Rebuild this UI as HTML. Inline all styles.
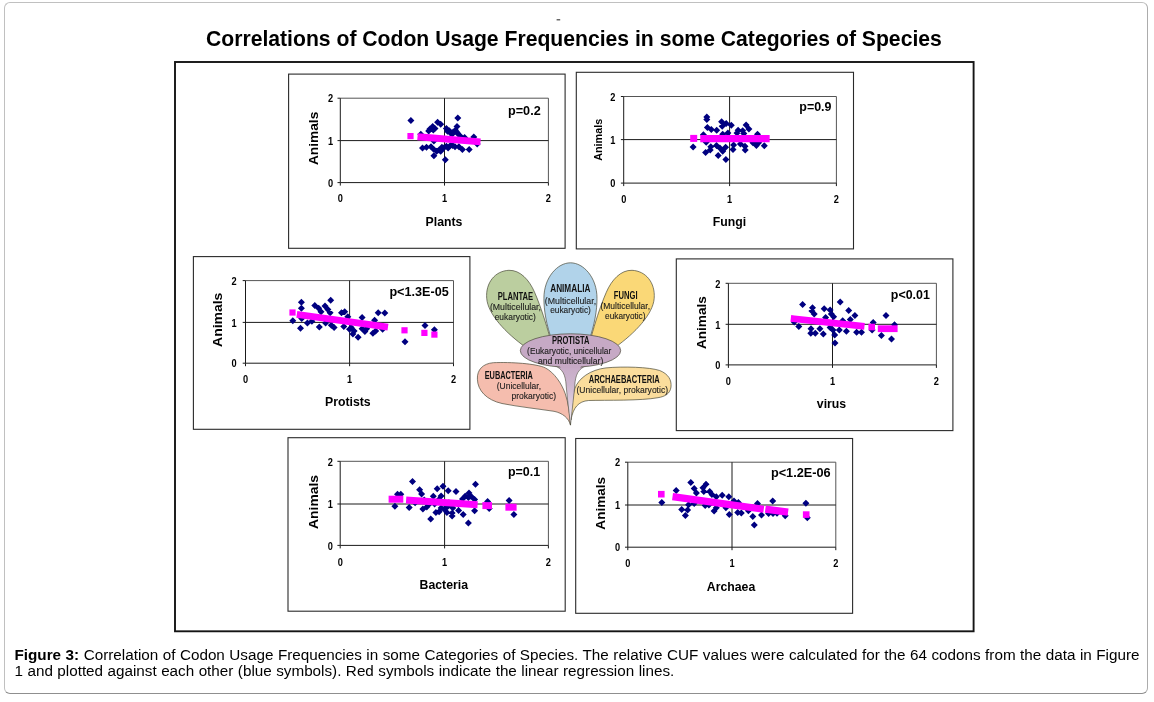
<!DOCTYPE html>
<html lang="en"><head><meta charset="utf-8"><title>Figure 3</title>
<style>
html,body{margin:0;padding:0;background:#fff;}
body{width:1154px;height:702px;position:relative;overflow:hidden;font-family:"Liberation Sans",Arial,sans-serif;}
.card{position:absolute;left:4px;top:2px;width:1142px;height:690px;border:1px solid #c0c0c0;border-right-color:#acacac;border-bottom-color:#8f8f8f;border-radius:6px;background:#fff;}
svg{position:absolute;left:0;top:0;}
svg text{font-family:"Liberation Sans",Arial,sans-serif;}
.cap{position:absolute;left:14.5px;top:647px;width:1125px;font-size:15.25px;line-height:16px;color:#000;margin:0;}
.cap span{display:block;white-space:nowrap;}
.cap .l1{text-align:justify;text-align-last:justify;}
.cap .l2{word-spacing:0.2px;}
</style></head><body>
<div class="card"></div>
<svg width="1154" height="702" viewBox="0 0 1154 702">
<rect x="556.6" y="19.2" width="3.6" height="1.2" fill="#444"/>
<text x="206" y="45.6" font-size="22.6" font-weight="bold" textLength="735.8" lengthAdjust="spacingAndGlyphs">Correlations of Codon Usage Frequencies in some Categories of Species</text>
<rect x="175" y="62" width="798.6" height="569.3" fill="none" stroke="#141414" stroke-width="1.9"/>
<g>
<rect x="288.6" y="74.1" width="276.5" height="174.2" fill="#fff" stroke="#2a2a2a" stroke-width="1.1"/>
<path d="M340.3,98.2H548.4V182.6" fill="none" stroke="#555" stroke-width="1"/>
<path d="M340.3,98.2V182.6H548.4" fill="none" stroke="#1a1a1a" stroke-width="1"/>
<path d="M340.3,140.6H548.4M444.5,98.2V182.6" fill="none" stroke="#1a1a1a" stroke-width="1"/>
<path d="M337.5,98.2H340.3M337.5,140.6H340.3M337.5,182.6H340.3M340.3,182.6v3M444.5,182.6v3M548.4,182.6v3" fill="none" stroke="#1a1a1a" stroke-width="1"/>
<text transform="translate(330.5,102.4) scale(0.84,1)" text-anchor="middle" font-size="11" font-weight="bold" fill="#000">2</text>
<text transform="translate(330.5,144.8) scale(0.84,1)" text-anchor="middle" font-size="11" font-weight="bold" fill="#000">1</text>
<text transform="translate(330.5,186.8) scale(0.84,1)" text-anchor="middle" font-size="11" font-weight="bold" fill="#000">0</text>
<text transform="translate(340.3,202.1) scale(0.84,1)" text-anchor="middle" font-size="11" font-weight="bold" fill="#000">0</text>
<text transform="translate(444.5,202.1) scale(0.84,1)" text-anchor="middle" font-size="11" font-weight="bold" fill="#000">1</text>
<text transform="translate(548.4,202.1) scale(0.84,1)" text-anchor="middle" font-size="11" font-weight="bold" fill="#000">2</text>
<text transform="translate(318.3,138.4) rotate(-90)" text-anchor="middle" font-size="13.5" font-weight="bold" textLength="53.4" lengthAdjust="spacingAndGlyphs">Animals</text>
<text transform="translate(444.0,225.6) scale(0.93,1)" text-anchor="middle" font-size="13.2" font-weight="bold" fill="#000">Plants</text>
<text x="508.0" y="114.6" font-size="13.4" font-weight="bold" fill="#000" textLength="32.7" lengthAdjust="spacingAndGlyphs">p=0.2</text>
<path d="M410.9,117.0l3.5,3.5l-3.5,3.5l-3.5,-3.5zM457.8,114.4l3.5,3.5l-3.5,3.5l-3.5,-3.5zM457.0,122.9l3.5,3.5l-3.5,3.5l-3.5,-3.5zM437.6,118.7l3.5,3.5l-3.5,3.5l-3.5,-3.5zM440.7,120.7l3.5,3.5l-3.5,3.5l-3.5,-3.5zM432.7,122.9l3.5,3.5l-3.5,3.5l-3.5,-3.5zM433.3,126.4l3.5,3.5l-3.5,3.5l-3.5,-3.5zM428.7,127.5l3.5,3.5l-3.5,3.5l-3.5,-3.5zM446.4,125.0l3.5,3.5l-3.5,3.5l-3.5,-3.5zM449.3,127.30000000000001l3.5,3.5l-3.5,3.5l-3.5,-3.5zM453.2,128.4l3.5,3.5l-3.5,3.5l-3.5,-3.5zM455.5,126.69999999999999l3.5,3.5l-3.5,3.5l-3.5,-3.5zM420.8,130.7l3.5,3.5l-3.5,3.5l-3.5,-3.5zM473.8,133.5l3.5,3.5l-3.5,3.5l-3.5,-3.5zM464.6,134.1l3.5,3.5l-3.5,3.5l-3.5,-3.5zM477.2,140.4l3.5,3.5l-3.5,3.5l-3.5,-3.5zM422.5,144.4l3.5,3.5l-3.5,3.5l-3.5,-3.5zM426.5,143.8l3.5,3.5l-3.5,3.5l-3.5,-3.5zM431.0,143.2l3.5,3.5l-3.5,3.5l-3.5,-3.5zM433.9,146.1l3.5,3.5l-3.5,3.5l-3.5,-3.5zM436.7,147.8l3.5,3.5l-3.5,3.5l-3.5,-3.5zM433.9,152.3l3.5,3.5l-3.5,3.5l-3.5,-3.5zM440.7,147.8l3.5,3.5l-3.5,3.5l-3.5,-3.5zM441.9,143.8l3.5,3.5l-3.5,3.5l-3.5,-3.5zM445.3,156.3l3.5,3.5l-3.5,3.5l-3.5,-3.5zM446.4,142.7l3.5,3.5l-3.5,3.5l-3.5,-3.5zM450.4,142.1l3.5,3.5l-3.5,3.5l-3.5,-3.5zM455.0,143.2l3.5,3.5l-3.5,3.5l-3.5,-3.5zM458.9,143.2l3.5,3.5l-3.5,3.5l-3.5,-3.5zM462.4,146.1l3.5,3.5l-3.5,3.5l-3.5,-3.5zM469.2,146.1l3.5,3.5l-3.5,3.5l-3.5,-3.5zM433.9,137.5l3.5,3.5l-3.5,3.5l-3.5,-3.5zM458.4,130.7l3.5,3.5l-3.5,3.5l-3.5,-3.5zM450.4,129.5l3.5,3.5l-3.5,3.5l-3.5,-3.5zM447.5,127.80000000000001l3.5,3.5l-3.5,3.5l-3.5,-3.5zM452.1,130.7l3.5,3.5l-3.5,3.5l-3.5,-3.5zM439.0,146.6l3.5,3.5l-3.5,3.5l-3.5,-3.5zM443.6,144.4l3.5,3.5l-3.5,3.5l-3.5,-3.5zM452.7,142.1l3.5,3.5l-3.5,3.5l-3.5,-3.5zM448.1,144.4l3.5,3.5l-3.5,3.5l-3.5,-3.5zM435.0,125.0l3.5,3.5l-3.5,3.5l-3.5,-3.5zM429.9,125.6l3.5,3.5l-3.5,3.5l-3.5,-3.5zM460.7,133.0l3.5,3.5l-3.5,3.5l-3.5,-3.5zM457.2,129.0l3.5,3.5l-3.5,3.5l-3.5,-3.5z" fill="#000080"/>
<rect x="407.4" y="133.0" width="6.2" height="6.2" fill="#ff00ff"/>
<line x1="421.0" y1="137.0" x2="477.0" y2="141.6" stroke="#ff00ff" stroke-width="7.0" stroke-linecap="square"/>
</g>
<g>
<rect x="576.3" y="72.3" width="277.2" height="176.6" fill="#fff" stroke="#2a2a2a" stroke-width="1.1"/>
<path d="M623.7,96.5H836.4V183.1" fill="none" stroke="#555" stroke-width="1"/>
<path d="M623.7,96.5V183.1H836.4" fill="none" stroke="#1a1a1a" stroke-width="1"/>
<path d="M623.7,139.6H836.4M729.6,96.5V183.1" fill="none" stroke="#1a1a1a" stroke-width="1"/>
<path d="M620.9000000000001,96.5H623.7M620.9000000000001,139.6H623.7M620.9000000000001,183.1H623.7M623.7,183.1v3M729.6,183.1v3M836.4,183.1v3" fill="none" stroke="#1a1a1a" stroke-width="1"/>
<text transform="translate(612.7,100.7) scale(0.84,1)" text-anchor="middle" font-size="11" font-weight="bold" fill="#000">2</text>
<text transform="translate(612.7,143.8) scale(0.84,1)" text-anchor="middle" font-size="11" font-weight="bold" fill="#000">1</text>
<text transform="translate(612.7,187.3) scale(0.84,1)" text-anchor="middle" font-size="11" font-weight="bold" fill="#000">0</text>
<text transform="translate(623.7,202.9) scale(0.84,1)" text-anchor="middle" font-size="11" font-weight="bold" fill="#000">0</text>
<text transform="translate(729.6,202.9) scale(0.84,1)" text-anchor="middle" font-size="11" font-weight="bold" fill="#000">1</text>
<text transform="translate(836.4,202.9) scale(0.84,1)" text-anchor="middle" font-size="11" font-weight="bold" fill="#000">2</text>
<text transform="translate(602.3,139.8) rotate(-90)" text-anchor="middle" font-size="11.3" font-weight="bold" textLength="42" lengthAdjust="spacingAndGlyphs">Animals</text>
<text transform="translate(729.5,226.2) scale(0.93,1)" text-anchor="middle" font-size="13.2" font-weight="bold" fill="#000">Fungi</text>
<text x="799.3" y="111.3" font-size="13.4" font-weight="bold" fill="#000" textLength="32.2" lengthAdjust="spacingAndGlyphs">p=0.9</text>
<path d="M706.8,113.4l3.5,3.5l-3.5,3.5l-3.5,-3.5zM706.8,115.9l3.5,3.5l-3.5,3.5l-3.5,-3.5zM707.4,123.9l3.5,3.5l-3.5,3.5l-3.5,-3.5zM711.3,125.9l3.5,3.5l-3.5,3.5l-3.5,-3.5zM716.7,126.69999999999999l3.5,3.5l-3.5,3.5l-3.5,-3.5zM721.6,118.2l3.5,3.5l-3.5,3.5l-3.5,-3.5zM722.2,122.7l3.5,3.5l-3.5,3.5l-3.5,-3.5zM726.2,119.9l3.5,3.5l-3.5,3.5l-3.5,-3.5zM731.3,121.8l3.5,3.5l-3.5,3.5l-3.5,-3.5zM746.1,121.6l3.5,3.5l-3.5,3.5l-3.5,-3.5zM748.9,125.6l3.5,3.5l-3.5,3.5l-3.5,-3.5zM738.1,126.69999999999999l3.5,3.5l-3.5,3.5l-3.5,-3.5zM742.7,127.30000000000001l3.5,3.5l-3.5,3.5l-3.5,-3.5zM737.0,129.5l3.5,3.5l-3.5,3.5l-3.5,-3.5zM743.8,130.1l3.5,3.5l-3.5,3.5l-3.5,-3.5zM727.9,129.5l3.5,3.5l-3.5,3.5l-3.5,-3.5zM722.7,130.7l3.5,3.5l-3.5,3.5l-3.5,-3.5zM703.4,131.3l3.5,3.5l-3.5,3.5l-3.5,-3.5zM757.5,130.7l3.5,3.5l-3.5,3.5l-3.5,-3.5zM693.1,143.5l3.5,3.5l-3.5,3.5l-3.5,-3.5zM705.6,148.9l3.5,3.5l-3.5,3.5l-3.5,-3.5zM710.2,146.6l3.5,3.5l-3.5,3.5l-3.5,-3.5zM710.8,143.2l3.5,3.5l-3.5,3.5l-3.5,-3.5zM706.2,138.7l3.5,3.5l-3.5,3.5l-3.5,-3.5zM716.5,142.1l3.5,3.5l-3.5,3.5l-3.5,-3.5zM719.9,144.4l3.5,3.5l-3.5,3.5l-3.5,-3.5zM722.7,147.8l3.5,3.5l-3.5,3.5l-3.5,-3.5zM725.6,143.8l3.5,3.5l-3.5,3.5l-3.5,-3.5zM718.2,152.1l3.5,3.5l-3.5,3.5l-3.5,-3.5zM725.9,156.0l3.5,3.5l-3.5,3.5l-3.5,-3.5zM733.0,146.1l3.5,3.5l-3.5,3.5l-3.5,-3.5zM733.6,141.5l3.5,3.5l-3.5,3.5l-3.5,-3.5zM740.4,140.4l3.5,3.5l-3.5,3.5l-3.5,-3.5zM745.0,142.7l3.5,3.5l-3.5,3.5l-3.5,-3.5zM745.2,146.4l3.5,3.5l-3.5,3.5l-3.5,-3.5zM756.4,142.1l3.5,3.5l-3.5,3.5l-3.5,-3.5zM764.3,142.3l3.5,3.5l-3.5,3.5l-3.5,-3.5zM758.6,139.2l3.5,3.5l-3.5,3.5l-3.5,-3.5zM752.9,139.2l3.5,3.5l-3.5,3.5l-3.5,-3.5z" fill="#000080"/>
<rect x="690.2" y="134.9" width="7" height="7" fill="#ff00ff"/>
<line x1="703.9" y1="138.7" x2="766.0" y2="138.7" stroke="#ff00ff" stroke-width="7.3" stroke-linecap="square"/>
</g>
<g>
<rect x="193.4" y="256.6" width="276.5" height="172.7" fill="#fff" stroke="#2a2a2a" stroke-width="1.1"/>
<path d="M245.5,280.6H453.5V363.2" fill="none" stroke="#555" stroke-width="1"/>
<path d="M245.5,280.6V363.2H453.5" fill="none" stroke="#1a1a1a" stroke-width="1"/>
<path d="M245.5,322.4H453.5M349.6,280.6V363.2" fill="none" stroke="#1a1a1a" stroke-width="1"/>
<path d="M242.7,280.6H245.5M242.7,322.4H245.5M242.7,363.2H245.5M245.5,363.2v3M349.6,363.2v3M453.5,363.2v3" fill="none" stroke="#1a1a1a" stroke-width="1"/>
<text transform="translate(234.1,284.8) scale(0.84,1)" text-anchor="middle" font-size="11" font-weight="bold" fill="#000">2</text>
<text transform="translate(234.1,326.6) scale(0.84,1)" text-anchor="middle" font-size="11" font-weight="bold" fill="#000">1</text>
<text transform="translate(234.1,367.4) scale(0.84,1)" text-anchor="middle" font-size="11" font-weight="bold" fill="#000">0</text>
<text transform="translate(245.5,383.0) scale(0.84,1)" text-anchor="middle" font-size="11" font-weight="bold" fill="#000">0</text>
<text transform="translate(349.6,383.0) scale(0.84,1)" text-anchor="middle" font-size="11" font-weight="bold" fill="#000">1</text>
<text transform="translate(453.5,383.0) scale(0.84,1)" text-anchor="middle" font-size="11" font-weight="bold" fill="#000">2</text>
<text transform="translate(222.4,319.8) rotate(-90)" text-anchor="middle" font-size="13.5" font-weight="bold" textLength="54.2" lengthAdjust="spacingAndGlyphs">Animals</text>
<text transform="translate(347.8,405.7) scale(0.93,1)" text-anchor="middle" font-size="13.2" font-weight="bold" fill="#000">Protists</text>
<text x="389.4" y="295.6" font-size="13.4" font-weight="bold" fill="#000" textLength="59.3" lengthAdjust="spacingAndGlyphs">p&lt;1.3E-05</text>
<path d="M301.4,298.8l3.5,3.5l-3.5,3.5l-3.5,-3.5zM301.4,304.7l3.5,3.5l-3.5,3.5l-3.5,-3.5zM292.8,317.3l3.5,3.5l-3.5,3.5l-3.5,-3.5zM300.5,324.7l3.5,3.5l-3.5,3.5l-3.5,-3.5zM301.7,315.0l3.5,3.5l-3.5,3.5l-3.5,-3.5zM307.4,319.5l3.5,3.5l-3.5,3.5l-3.5,-3.5zM311.9,317.8l3.5,3.5l-3.5,3.5l-3.5,-3.5zM314.8,301.9l3.5,3.5l-3.5,3.5l-3.5,-3.5zM318.7,304.7l3.5,3.5l-3.5,3.5l-3.5,-3.5zM321.0,308.2l3.5,3.5l-3.5,3.5l-3.5,-3.5zM325.0,302.5l3.5,3.5l-3.5,3.5l-3.5,-3.5zM327.9,305.9l3.5,3.5l-3.5,3.5l-3.5,-3.5zM330.7,296.8l3.5,3.5l-3.5,3.5l-3.5,-3.5zM330.1,309.3l3.5,3.5l-3.5,3.5l-3.5,-3.5zM319.3,323.5l3.5,3.5l-3.5,3.5l-3.5,-3.5zM325.6,319.5l3.5,3.5l-3.5,3.5l-3.5,-3.5zM331.3,321.8l3.5,3.5l-3.5,3.5l-3.5,-3.5zM334.1,324.1l3.5,3.5l-3.5,3.5l-3.5,-3.5zM341.5,309.3l3.5,3.5l-3.5,3.5l-3.5,-3.5zM344.7,308.2l3.5,3.5l-3.5,3.5l-3.5,-3.5zM347.8,313.3l3.5,3.5l-3.5,3.5l-3.5,-3.5zM343.8,323.0l3.5,3.5l-3.5,3.5l-3.5,-3.5zM349.5,325.8l3.5,3.5l-3.5,3.5l-3.5,-3.5zM351.2,324.1l3.5,3.5l-3.5,3.5l-3.5,-3.5zM352.9,330.4l3.5,3.5l-3.5,3.5l-3.5,-3.5zM354.1,327.5l3.5,3.5l-3.5,3.5l-3.5,-3.5zM358.1,333.8l3.5,3.5l-3.5,3.5l-3.5,-3.5zM362.1,313.9l3.5,3.5l-3.5,3.5l-3.5,-3.5zM362.1,325.2l3.5,3.5l-3.5,3.5l-3.5,-3.5zM364.9,328.1l3.5,3.5l-3.5,3.5l-3.5,-3.5zM366.6,325.2l3.5,3.5l-3.5,3.5l-3.5,-3.5zM374.6,316.7l3.5,3.5l-3.5,3.5l-3.5,-3.5zM372.9,329.8l3.5,3.5l-3.5,3.5l-3.5,-3.5zM375.7,327.5l3.5,3.5l-3.5,3.5l-3.5,-3.5zM378.2,309.3l3.5,3.5l-3.5,3.5l-3.5,-3.5zM384.8,309.6l3.5,3.5l-3.5,3.5l-3.5,-3.5zM382.6,325.8l3.5,3.5l-3.5,3.5l-3.5,-3.5zM405,338.2l3.5,3.5l-3.5,3.5l-3.5,-3.5zM425,322.0l3.5,3.5l-3.5,3.5l-3.5,-3.5zM434.4,326.3l3.5,3.5l-3.5,3.5l-3.5,-3.5z" fill="#000080"/>
<rect x="289.4" y="309.4" width="6.2" height="6.2" fill="#ff00ff"/>
<rect x="401.4" y="327.2" width="6.2" height="6.2" fill="#ff00ff"/>
<rect x="421.3" y="329.8" width="6.2" height="6.2" fill="#ff00ff"/>
<rect x="431.3" y="331.5" width="6.2" height="6.2" fill="#ff00ff"/>
<line x1="300.2" y1="314.8" x2="384.6" y2="326.7" stroke="#ff00ff" stroke-width="6.8" stroke-linecap="square"/>
</g>
<g>
<rect x="676.3" y="258.9" width="276.6" height="171.7" fill="#fff" stroke="#2a2a2a" stroke-width="1.1"/>
<path d="M728.4,283.3H936.4V364.9" fill="none" stroke="#555" stroke-width="1"/>
<path d="M728.4,283.3V364.9H936.4" fill="none" stroke="#1a1a1a" stroke-width="1"/>
<path d="M728.4,324.3H936.4M832.5,283.3V364.9" fill="none" stroke="#1a1a1a" stroke-width="1"/>
<path d="M725.6,283.3H728.4M725.6,324.3H728.4M725.6,364.9H728.4M728.4,364.9v3M832.5,364.9v3M936.4,364.9v3" fill="none" stroke="#1a1a1a" stroke-width="1"/>
<text transform="translate(717.9,287.5) scale(0.84,1)" text-anchor="middle" font-size="11" font-weight="bold" fill="#000">2</text>
<text transform="translate(717.9,328.5) scale(0.84,1)" text-anchor="middle" font-size="11" font-weight="bold" fill="#000">1</text>
<text transform="translate(717.9,369.1) scale(0.84,1)" text-anchor="middle" font-size="11" font-weight="bold" fill="#000">0</text>
<text transform="translate(728.4,384.9) scale(0.84,1)" text-anchor="middle" font-size="11" font-weight="bold" fill="#000">0</text>
<text transform="translate(832.5,384.9) scale(0.84,1)" text-anchor="middle" font-size="11" font-weight="bold" fill="#000">1</text>
<text transform="translate(936.4,384.9) scale(0.84,1)" text-anchor="middle" font-size="11" font-weight="bold" fill="#000">2</text>
<text transform="translate(706.2,322.6) rotate(-90)" text-anchor="middle" font-size="13.5" font-weight="bold" textLength="52.9" lengthAdjust="spacingAndGlyphs">Animals</text>
<text transform="translate(831.5,407.7) scale(0.93,1)" text-anchor="middle" font-size="13.2" font-weight="bold" fill="#000">virus</text>
<text x="890.8" y="299.4" font-size="13.4" font-weight="bold" fill="#000" textLength="39.0" lengthAdjust="spacingAndGlyphs">p&lt;0.01</text>
<path d="M802.6,301.1l3.5,3.5l-3.5,3.5l-3.5,-3.5zM812.5,304.2l3.5,3.5l-3.5,3.5l-3.5,-3.5zM811.9,307.6l3.5,3.5l-3.5,3.5l-3.5,-3.5zM814.2,310.4l3.5,3.5l-3.5,3.5l-3.5,-3.5zM824.2,305.3l3.5,3.5l-3.5,3.5l-3.5,-3.5zM830.1,306.4l3.5,3.5l-3.5,3.5l-3.5,-3.5zM831.3,310.4l3.5,3.5l-3.5,3.5l-3.5,-3.5zM833.6,313.3l3.5,3.5l-3.5,3.5l-3.5,-3.5zM825.6,313.9l3.5,3.5l-3.5,3.5l-3.5,-3.5zM840.2,298.5l3.5,3.5l-3.5,3.5l-3.5,-3.5zM848.7,307.0l3.5,3.5l-3.5,3.5l-3.5,-3.5zM854.9,312.1l3.5,3.5l-3.5,3.5l-3.5,-3.5zM850.3,316.1l3.5,3.5l-3.5,3.5l-3.5,-3.5zM842.7,317.3l3.5,3.5l-3.5,3.5l-3.5,-3.5zM886.0,311.9l3.5,3.5l-3.5,3.5l-3.5,-3.5zM873.2,319.0l3.5,3.5l-3.5,3.5l-3.5,-3.5zM894.5,321.3l3.5,3.5l-3.5,3.5l-3.5,-3.5zM794.2,318.4l3.5,3.5l-3.5,3.5l-3.5,-3.5zM798.8,323.0l3.5,3.5l-3.5,3.5l-3.5,-3.5zM811.0,325.2l3.5,3.5l-3.5,3.5l-3.5,-3.5zM810.8,329.8l3.5,3.5l-3.5,3.5l-3.5,-3.5zM815.3,329.8l3.5,3.5l-3.5,3.5l-3.5,-3.5zM819.9,325.2l3.5,3.5l-3.5,3.5l-3.5,-3.5zM823.3,330.4l3.5,3.5l-3.5,3.5l-3.5,-3.5zM830.1,324.1l3.5,3.5l-3.5,3.5l-3.5,-3.5zM833.0,326.4l3.5,3.5l-3.5,3.5l-3.5,-3.5zM834.7,331.5l3.5,3.5l-3.5,3.5l-3.5,-3.5zM835.0,339.5l3.5,3.5l-3.5,3.5l-3.5,-3.5zM839.3,326.4l3.5,3.5l-3.5,3.5l-3.5,-3.5zM846.4,327.8l3.5,3.5l-3.5,3.5l-3.5,-3.5zM856.6,328.7l3.5,3.5l-3.5,3.5l-3.5,-3.5zM861.5,328.7l3.5,3.5l-3.5,3.5l-3.5,-3.5zM872.1,326.4l3.5,3.5l-3.5,3.5l-3.5,-3.5zM881.4,332.1l3.5,3.5l-3.5,3.5l-3.5,-3.5zM891.5,335.5l3.5,3.5l-3.5,3.5l-3.5,-3.5z" fill="#000080"/>
<rect x="868.4" y="323.7" width="6.6" height="6.6" fill="#ff00ff"/>
<line x1="794.2" y1="318.8" x2="861.1" y2="326.1" stroke="#ff00ff" stroke-width="6.8" stroke-linecap="square"/>
<line x1="881.2" y1="328.7" x2="894.2" y2="328.7" stroke="#ff00ff" stroke-width="6.8" stroke-linecap="square"/>
</g>
<g>
<rect x="288.0" y="437.7" width="277.2" height="173.5" fill="#fff" stroke="#2a2a2a" stroke-width="1.1"/>
<path d="M340.2,461.3H548.4V545.4" fill="none" stroke="#555" stroke-width="1"/>
<path d="M340.2,461.3V545.4H548.4" fill="none" stroke="#1a1a1a" stroke-width="1"/>
<path d="M340.2,504.0H548.4M444.6,461.3V545.4" fill="none" stroke="#1a1a1a" stroke-width="1"/>
<path d="M337.4,461.3H340.2M337.4,504.0H340.2M337.4,545.4H340.2M340.2,545.4v3M444.6,545.4v3M548.4,545.4v3" fill="none" stroke="#1a1a1a" stroke-width="1"/>
<text transform="translate(330.4,465.5) scale(0.84,1)" text-anchor="middle" font-size="11" font-weight="bold" fill="#000">2</text>
<text transform="translate(330.4,508.2) scale(0.84,1)" text-anchor="middle" font-size="11" font-weight="bold" fill="#000">1</text>
<text transform="translate(330.4,549.6) scale(0.84,1)" text-anchor="middle" font-size="11" font-weight="bold" fill="#000">0</text>
<text transform="translate(340.2,565.5) scale(0.84,1)" text-anchor="middle" font-size="11" font-weight="bold" fill="#000">0</text>
<text transform="translate(444.6,565.5) scale(0.84,1)" text-anchor="middle" font-size="11" font-weight="bold" fill="#000">1</text>
<text transform="translate(548.4,565.5) scale(0.84,1)" text-anchor="middle" font-size="11" font-weight="bold" fill="#000">2</text>
<text transform="translate(317.6,502.0) rotate(-90)" text-anchor="middle" font-size="13.5" font-weight="bold" textLength="53.9" lengthAdjust="spacingAndGlyphs">Animals</text>
<text transform="translate(443.8,588.8) scale(0.93,1)" text-anchor="middle" font-size="13.2" font-weight="bold" fill="#000">Bacteria</text>
<text x="507.9" y="476.1" font-size="13.4" font-weight="bold" fill="#000" textLength="32.2" lengthAdjust="spacingAndGlyphs">p=0.1</text>
<path d="M412.5,478.0l3.5,3.5l-3.5,3.5l-3.5,-3.5zM475.5,480.7l3.5,3.5l-3.5,3.5l-3.5,-3.5zM443.0,482.7l3.5,3.5l-3.5,3.5l-3.5,-3.5zM437.2,485.3l3.5,3.5l-3.5,3.5l-3.5,-3.5zM419.6,486.2l3.5,3.5l-3.5,3.5l-3.5,-3.5zM421.6,490.4l3.5,3.5l-3.5,3.5l-3.5,-3.5zM448.2,487.2l3.5,3.5l-3.5,3.5l-3.5,-3.5zM456.0,488.1l3.5,3.5l-3.5,3.5l-3.5,-3.5zM469.0,489.4l3.5,3.5l-3.5,3.5l-3.5,-3.5zM433.3,492.7l3.5,3.5l-3.5,3.5l-3.5,-3.5zM441.1,492.4l3.5,3.5l-3.5,3.5l-3.5,-3.5zM397.5,490.7l3.5,3.5l-3.5,3.5l-3.5,-3.5zM400.8,490.7l3.5,3.5l-3.5,3.5l-3.5,-3.5zM468.4,494.0l3.5,3.5l-3.5,3.5l-3.5,-3.5zM462.5,495.6l3.5,3.5l-3.5,3.5l-3.5,-3.5zM474.6,495.9l3.5,3.5l-3.5,3.5l-3.5,-3.5zM487.6,497.9l3.5,3.5l-3.5,3.5l-3.5,-3.5zM509.1,497.0l3.5,3.5l-3.5,3.5l-3.5,-3.5zM394.9,502.8l3.5,3.5l-3.5,3.5l-3.5,-3.5zM409.2,504.1l3.5,3.5l-3.5,3.5l-3.5,-3.5zM422.9,505.4l3.5,3.5l-3.5,3.5l-3.5,-3.5zM426.8,503.4l3.5,3.5l-3.5,3.5l-3.5,-3.5zM435.9,508.9l3.5,3.5l-3.5,3.5l-3.5,-3.5zM439.1,508.3l3.5,3.5l-3.5,3.5l-3.5,-3.5zM430.7,515.4l3.5,3.5l-3.5,3.5l-3.5,-3.5zM444.3,505.7l3.5,3.5l-3.5,3.5l-3.5,-3.5zM446.9,508.9l3.5,3.5l-3.5,3.5l-3.5,-3.5zM452.1,509.6l3.5,3.5l-3.5,3.5l-3.5,-3.5zM452.1,512.5l3.5,3.5l-3.5,3.5l-3.5,-3.5zM458.6,507.0l3.5,3.5l-3.5,3.5l-3.5,-3.5zM463.2,510.9l3.5,3.5l-3.5,3.5l-3.5,-3.5zM468.4,519.6l3.5,3.5l-3.5,3.5l-3.5,-3.5zM474.6,507.3l3.5,3.5l-3.5,3.5l-3.5,-3.5zM489.2,505.0l3.5,3.5l-3.5,3.5l-3.5,-3.5zM513.9,510.9l3.5,3.5l-3.5,3.5l-3.5,-3.5zM415.1,499.2l3.5,3.5l-3.5,3.5l-3.5,-3.5zM448.9,499.2l3.5,3.5l-3.5,3.5l-3.5,-3.5zM438.5,496.6l3.5,3.5l-3.5,3.5l-3.5,-3.5zM445.0,500.5l3.5,3.5l-3.5,3.5l-3.5,-3.5zM447.6,503.1l3.5,3.5l-3.5,3.5l-3.5,-3.5zM441.1,504.4l3.5,3.5l-3.5,3.5l-3.5,-3.5zM452.8,504.4l3.5,3.5l-3.5,3.5l-3.5,-3.5zM458.0,500.5l3.5,3.5l-3.5,3.5l-3.5,-3.5zM434.6,500.5l3.5,3.5l-3.5,3.5l-3.5,-3.5zM429.4,500.5l3.5,3.5l-3.5,3.5l-3.5,-3.5zM424.2,496.6l3.5,3.5l-3.5,3.5l-3.5,-3.5zM465.1,492.7l3.5,3.5l-3.5,3.5l-3.5,-3.5zM471.0,492.7l3.5,3.5l-3.5,3.5l-3.5,-3.5z" fill="#000080"/>
<line x1="392.1" y1="499.2" x2="399.8" y2="499.2" stroke="#ff00ff" stroke-width="7" stroke-linecap="square"/>
<line x1="409.6" y1="500.2" x2="474.1" y2="504.5" stroke="#ff00ff" stroke-width="7" stroke-linecap="square"/>
<line x1="485.9" y1="505.6" x2="488.5" y2="505.6" stroke="#ff00ff" stroke-width="7" stroke-linecap="square"/>
<line x1="508.9" y1="507.2" x2="513.1" y2="507.2" stroke="#ff00ff" stroke-width="7" stroke-linecap="square"/>
</g>
<g>
<rect x="575.7" y="438.5" width="276.9" height="174.8" fill="#fff" stroke="#2a2a2a" stroke-width="1.1"/>
<path d="M627.8,462.2H835.8V547.2" fill="none" stroke="#555" stroke-width="1"/>
<path d="M627.8,462.2V547.2H835.8" fill="none" stroke="#1a1a1a" stroke-width="1"/>
<path d="M627.8,505.0H835.8M732.0,462.2V547.2" fill="none" stroke="#1a1a1a" stroke-width="1"/>
<path d="M625.0,462.2H627.8M625.0,505.0H627.8M625.0,547.2H627.8M627.8,547.2v3M732.0,547.2v3M835.8,547.2v3" fill="none" stroke="#1a1a1a" stroke-width="1"/>
<text transform="translate(617.6,466.4) scale(0.84,1)" text-anchor="middle" font-size="11" font-weight="bold" fill="#000">2</text>
<text transform="translate(617.6,509.2) scale(0.84,1)" text-anchor="middle" font-size="11" font-weight="bold" fill="#000">1</text>
<text transform="translate(617.6,551.4) scale(0.84,1)" text-anchor="middle" font-size="11" font-weight="bold" fill="#000">0</text>
<text transform="translate(627.8,566.9) scale(0.84,1)" text-anchor="middle" font-size="11" font-weight="bold" fill="#000">0</text>
<text transform="translate(732.0,566.9) scale(0.84,1)" text-anchor="middle" font-size="11" font-weight="bold" fill="#000">1</text>
<text transform="translate(835.8,566.9) scale(0.84,1)" text-anchor="middle" font-size="11" font-weight="bold" fill="#000">2</text>
<text transform="translate(605.4,503.3) rotate(-90)" text-anchor="middle" font-size="13.5" font-weight="bold" textLength="52.7" lengthAdjust="spacingAndGlyphs">Animals</text>
<text transform="translate(731.0,590.8) scale(0.93,1)" text-anchor="middle" font-size="13.2" font-weight="bold" fill="#000">Archaea</text>
<text x="770.9" y="476.7" font-size="13.4" font-weight="bold" fill="#000" textLength="59.8" lengthAdjust="spacingAndGlyphs">p&lt;1.2E-06</text>
<path d="M690.8,478.9l3.5,3.5l-3.5,3.5l-3.5,-3.5zM706.0,480.7l3.5,3.5l-3.5,3.5l-3.5,-3.5zM703.0,484.3l3.5,3.5l-3.5,3.5l-3.5,-3.5zM694.2,485.1l3.5,3.5l-3.5,3.5l-3.5,-3.5zM703.8,488.0l3.5,3.5l-3.5,3.5l-3.5,-3.5zM696.4,489.5l3.5,3.5l-3.5,3.5l-3.5,-3.5zM676.2,487.0l3.5,3.5l-3.5,3.5l-3.5,-3.5zM709.7,488.0l3.5,3.5l-3.5,3.5l-3.5,-3.5zM711.9,491.0l3.5,3.5l-3.5,3.5l-3.5,-3.5zM716.3,493.2l3.5,3.5l-3.5,3.5l-3.5,-3.5zM722.2,491.7l3.5,3.5l-3.5,3.5l-3.5,-3.5zM728.8,493.2l3.5,3.5l-3.5,3.5l-3.5,-3.5zM734.0,497.6l3.5,3.5l-3.5,3.5l-3.5,-3.5zM738.4,499.1l3.5,3.5l-3.5,3.5l-3.5,-3.5zM757.5,500.1l3.5,3.5l-3.5,3.5l-3.5,-3.5zM772.7,497.6l3.5,3.5l-3.5,3.5l-3.5,-3.5zM805.9,499.8l3.5,3.5l-3.5,3.5l-3.5,-3.5zM661.8,499.1l3.5,3.5l-3.5,3.5l-3.5,-3.5zM681.7,506.0l3.5,3.5l-3.5,3.5l-3.5,-3.5zM687.6,506.4l3.5,3.5l-3.5,3.5l-3.5,-3.5zM688.6,501.3l3.5,3.5l-3.5,3.5l-3.5,-3.5zM685.4,512.0l3.5,3.5l-3.5,3.5l-3.5,-3.5zM694.2,500.1l3.5,3.5l-3.5,3.5l-3.5,-3.5zM705.2,502.0l3.5,3.5l-3.5,3.5l-3.5,-3.5zM708.9,501.6l3.5,3.5l-3.5,3.5l-3.5,-3.5zM716.3,504.2l3.5,3.5l-3.5,3.5l-3.5,-3.5zM714.1,507.5l3.5,3.5l-3.5,3.5l-3.5,-3.5zM725.9,504.2l3.5,3.5l-3.5,3.5l-3.5,-3.5zM729.3,510.9l3.5,3.5l-3.5,3.5l-3.5,-3.5zM737.7,508.9l3.5,3.5l-3.5,3.5l-3.5,-3.5zM741.3,509.4l3.5,3.5l-3.5,3.5l-3.5,-3.5zM748.4,507.2l3.5,3.5l-3.5,3.5l-3.5,-3.5zM752.8,513.1l3.5,3.5l-3.5,3.5l-3.5,-3.5zM754.3,521.5l3.5,3.5l-3.5,3.5l-3.5,-3.5zM761.5,511.6l3.5,3.5l-3.5,3.5l-3.5,-3.5zM768.6,510.1l3.5,3.5l-3.5,3.5l-3.5,-3.5zM773.0,510.1l3.5,3.5l-3.5,3.5l-3.5,-3.5zM777.0,509.79999999999995l3.5,3.5l-3.5,3.5l-3.5,-3.5zM785.2,512.3l3.5,3.5l-3.5,3.5l-3.5,-3.5zM807.3,514.2l3.5,3.5l-3.5,3.5l-3.5,-3.5z" fill="#000080"/>
<rect x="658.0" y="490.9" width="6.6" height="6.6" fill="#ff00ff"/>
<rect x="802.9" y="511.3" width="6.6" height="6.6" fill="#ff00ff"/>
<line x1="676.1" y1="497.1" x2="760.2" y2="508.8" stroke="#ff00ff" stroke-width="7.2" stroke-linecap="square"/>
<line x1="768.9" y1="509.6" x2="784.5" y2="511.7" stroke="#ff00ff" stroke-width="7.2" stroke-linecap="square"/>
</g>
<g><defs><linearGradient id="tail" x1="0" y1="0" x2="0" y2="1"><stop offset="0" stop-color="#c6a9c5"/><stop offset="0.35" stop-color="#cdb6cf"/><stop offset="1" stop-color="#f4eef4"/></linearGradient></defs>
<path d="M549.7,336.5 C546.2,324.3 541.0,307.0 534.6,292.3 C529.4,280.1 520.2,269.9 508.9,270.3 C495.1,270.9 485.5,282.7 486.7,298.3 C487.8,313.9 505.5,333.0 526.3,347.7 L550.5,347.7 Z" fill="#bbce9f" stroke="#4a4a3a" stroke-width="0.7"/>
<path d="M591.3,336.5 C594.7,324.3 599.9,307.0 606.3,292.3 C611.5,280.1 620.7,269.9 632.0,270.3 C645.8,270.9 655.4,282.7 654.2,298.3 C653.1,313.9 635.4,333.0 614.6,347.7 L590.4,347.7 Z" fill="#fad877" stroke="#4a4a3a" stroke-width="0.7"/>
<path d="M552.3,341.7 C546.2,324.3 543.9,310.5 543.9,298.3 C543.9,277.5 557.5,262.8 570.5,262.8 C583.5,262.8 597.0,277.5 597.0,298.3 C597.0,310.5 594.7,324.3 588.7,341.7 Z" fill="#b1d3ea" stroke="#4a4a3a" stroke-width="0.7"/>
<path d="M570.5,425.1 C569.9,413.0 568.2,402.6 565.3,393.9 C561.8,383.5 554.0,372.3 545.3,367.9 C536.7,363.6 510.7,361.9 493.3,362.7 C482.9,363.6 476.9,369.7 477.4,379.2 C477.7,390.5 486.4,400.0 502.0,403.5 C519.3,406.9 536.7,408.7 554.0,411.3 C562.7,413.0 568.7,418.2 570.5,425.1 Z" fill="#f5bdae" stroke="#4a4a3a" stroke-width="0.7"/>
<path d="M571.0,419.9 C571.3,407.8 572.2,397.4 574.8,388.7 C578.3,378.3 590.4,369.7 606.0,367.9 C623.3,366.2 649.3,367.1 659.7,370.5 C668.4,374.0 671.8,380.1 671.0,387.0 C670.1,393.9 664.9,396.5 658.0,397.7 C640.6,400.9 606.0,400.0 588.7,400.5 C578.3,401.2 573.1,407.8 571.0,419.9 Z" fill="#fbdd9c" stroke="#4a4a3a" stroke-width="0.7"/>
<path d="M550.5,363.6 C560.9,367.9 564.4,371.4 565.8,381.8 C567.0,395.7 568.7,409.5 570.5,425.1 C572.2,409.5 573.9,395.7 575.1,381.8 C576.5,371.4 580.0,367.9 590.4,363.6 Z" fill="url(#tail)" stroke="#4a4a3a" stroke-width="0.6"/>
<ellipse cx="570.5" cy="350.6" rx="50.2" ry="16.8" fill="#c6a9c5" stroke="#4a4a3a" stroke-width="0.7"/>
<path d="M557.5,361.0 L583.5,361.0 L580.0,368.3 L560.9,368.3 Z" fill="#c6a9c5"/>
<text x="497.7" y="300.2" font-size="10" font-weight="bold" fill="#111" stroke="#111" stroke-width="0" textLength="35.5" lengthAdjust="spacingAndGlyphs">PLANTAE</text>
<text x="489.9" y="310.2" font-size="8.8" font-weight="normal" fill="#1c1c1c" stroke="#1c1c1c" stroke-width="0.12" textLength="51.1" lengthAdjust="spacingAndGlyphs">(Multicellular,</text>
<text x="494.7" y="320.0" font-size="8.8" font-weight="normal" fill="#1c1c1c" stroke="#1c1c1c" stroke-width="0.12" textLength="41.1" lengthAdjust="spacingAndGlyphs">eukaryotic)</text>
<text x="550.2" y="292.4" font-size="10" font-weight="bold" fill="#111" stroke="#111" stroke-width="0" textLength="40.2" lengthAdjust="spacingAndGlyphs">ANIMALIA</text>
<text x="544.8" y="303.6" font-size="8.8" font-weight="normal" fill="#1c1c1c" stroke="#1c1c1c" stroke-width="0.12" textLength="51.3" lengthAdjust="spacingAndGlyphs">(Multicellular,</text>
<text x="550.2" y="312.8" font-size="8.8" font-weight="normal" fill="#1c1c1c" stroke="#1c1c1c" stroke-width="0.12" textLength="40.7" lengthAdjust="spacingAndGlyphs">eukaryotic)</text>
<text x="613.8" y="298.8" font-size="10" font-weight="bold" fill="#111" stroke="#111" stroke-width="0" textLength="23.7" lengthAdjust="spacingAndGlyphs">FUNGI</text>
<text x="600.4" y="308.9" font-size="8.8" font-weight="normal" fill="#1c1c1c" stroke="#1c1c1c" stroke-width="0.12" textLength="49.7" lengthAdjust="spacingAndGlyphs">(Multicellular,</text>
<text x="605.1" y="318.8" font-size="8.8" font-weight="normal" fill="#1c1c1c" stroke="#1c1c1c" stroke-width="0.12" textLength="40.4" lengthAdjust="spacingAndGlyphs">eukaryotic)</text>
<text x="551.9" y="344.3" font-size="10" font-weight="bold" fill="#111" stroke="#111" stroke-width="0" textLength="37.6" lengthAdjust="spacingAndGlyphs">PROTISTA</text>
<text x="527.1" y="354.3" font-size="8.8" font-weight="normal" fill="#1c1c1c" stroke="#1c1c1c" stroke-width="0.12" textLength="84.1" lengthAdjust="spacingAndGlyphs">(Eukaryotic, unicellular</text>
<text x="538.0" y="363.8" font-size="8.8" font-weight="normal" fill="#1c1c1c" stroke="#1c1c1c" stroke-width="0.12" textLength="65.3" lengthAdjust="spacingAndGlyphs">and multicellular)</text>
<text x="484.7" y="378.8" font-size="10" font-weight="bold" fill="#111" stroke="#111" stroke-width="0" textLength="48.2" lengthAdjust="spacingAndGlyphs">EUBACTERIA</text>
<text x="496.8" y="389.3" font-size="8.8" font-weight="normal" fill="#1c1c1c" stroke="#1c1c1c" stroke-width="0.12" textLength="44.2" lengthAdjust="spacingAndGlyphs">(Unicellular,</text>
<text x="511.5" y="398.8" font-size="8.8" font-weight="normal" fill="#1c1c1c" stroke="#1c1c1c" stroke-width="0.12" textLength="44.5" lengthAdjust="spacingAndGlyphs">prokaryotic)</text>
<text x="588.7" y="383.1" font-size="10" font-weight="bold" fill="#111" stroke="#111" stroke-width="0" textLength="71.1" lengthAdjust="spacingAndGlyphs">ARCHAEBACTERIA</text>
<text x="576.5" y="393.3" font-size="8.8" font-weight="normal" fill="#1c1c1c" stroke="#1c1c1c" stroke-width="0.12" textLength="91.5" lengthAdjust="spacingAndGlyphs">(Unicellular, prokaryotic)</text></g>
</svg>
<p class="cap"><span class="l1"><b>Figure 3:</b> Correlation of Codon Usage Frequencies in some Categories of Species. The relative CUF values were calculated for the 64 codons from the data in Figure</span><span class="l2">1 and plotted against each other (blue symbols). Red symbols indicate the linear regression lines.</span></p>
</body></html>
